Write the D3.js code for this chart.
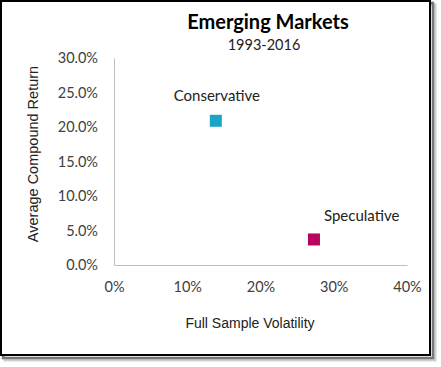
<!DOCTYPE html>
<html lang="en">
  <head>
    <meta charset="UTF-8">
    <script src="https://d3js.org/d3.v7.min.js"></script>
    <title>Emerging Markets</title>
    <style>
      body { margin: 0; background: #fff; }
      svg { display: block; }
      .tick text { font-family: Lato, "Open Sans", sans-serif; font-size: 14.5px; fill: #404040; }
    </style>
  </head>
  <body>
    <div id="chart"></div>
    <script>
      // данные
      const labels = ['Conservative', 'Speculative'];
      const volatility = [0.139, 0.273];
      const returns = [0.209, 0.037];
      const colors = ['#1aa5c3', '#b8045e'];
      const xTicks = [0, 0.1, 0.2, 0.3, 0.4];
      const yTicks = [0, 0.05, 0.1, 0.15, 0.2, 0.25, 0.3];

      const width = 441, height = 367;
      const svg = d3.select('#chart').append('svg')
        .attr('width', width)
        .attr('height', height);

      // рамка с тенью
      svg.append('rect').attr('x', 5).attr('y', 5).attr('width', 430).attr('height', 355)
        .attr('fill', 'none').attr('stroke', '#d0d0d0').attr('stroke-width', 3);
      svg.append('rect').attr('x', 3).attr('y', 3).attr('width', 430).attr('height', 355)
        .attr('fill', 'none').attr('stroke', '#777').attr('stroke-width', 2.5);
      svg.append('rect').attr('x', 1).attr('y', 1).attr('width', 429).attr('height', 354)
        .attr('fill', '#fff').attr('stroke', '#000').attr('stroke-width', 2);

      const x = d3.scaleLinear().domain([0, 0.4]).range([114, 407]);
      const y = d3.scaleLinear().domain([0, 0.3]).range([265, 58]);

      svg.append('g')
        .attr('transform', 'translate(0,265)')
        .call(d3.axisBottom(x).tickValues(xTicks).tickFormat(d3.format('.0%')).tickSize(0).tickPadding(17))
        .call(g => g.select('.domain').attr('stroke', '#bfbfbf'));

      svg.append('g')
        .attr('transform', 'translate(114,0)')
        .call(d3.axisLeft(y).tickValues(yTicks).tickFormat(d3.format('.1%')).tickSize(0).tickPadding(16))
        .call(g => g.select('.domain').attr('stroke', '#bfbfbf'));

      // заголовки
      svg.append('text').attr('x', 268).attr('y', 29)
        .attr('text-anchor', 'middle')
        .style('font-family', 'Lato, sans-serif').style('font-weight', 'bold').style('font-size', '20px')
        .attr('fill', '#000').text('Emerging Markets');
      svg.append('text').attr('x', 264).attr('y', 50)
        .attr('text-anchor', 'middle')
        .style('font-family', 'Lato, sans-serif').style('font-size', '14.5px')
        .attr('fill', '#222').text('1993-2016');

      svg.append('text')
        .attr('transform', 'translate(38,154) rotate(-90)')
        .attr('text-anchor', 'middle')
        .style('font-family', '"Liberation Sans", Arial, sans-serif').style('font-size', '14.5px')
        .attr('fill', '#222').text('Average Compound Return');
      svg.append('text').attr('x', 250).attr('y', 328)
        .attr('text-anchor', 'middle')
        .style('font-family', '"Liberation Sans", Arial, sans-serif').style('font-size', '14px')
        .attr('fill', '#222').text('Full Sample Volatility');

      // точки
      const pts = labels.map((l, i) => ({ label: l, x: volatility[i], y: returns[i], color: colors[i] }));
      const size = 12;
      svg.selectAll('.pt').data(pts).enter().append('rect')
        .attr('class', 'pt')
        .attr('x', d => x(d.x) - size / 2)
        .attr('y', d => y(d.y) - size / 2)
        .attr('width', size).attr('height', size)
        .attr('fill', d => d.color);

      svg.selectAll('.lbl').data(pts).enter().append('text')
        .attr('class', 'lbl')
        .attr('x', (d, i) => i === 0 ? x(d.x) + 1 : x(d.x) + 10)
        .attr('y', (d, i) => i === 0 ? y(d.y) - 20 : y(d.y) - 18)
        .attr('text-anchor', (d, i) => i === 0 ? 'middle' : 'start')
        .style('font-family', 'Lato, sans-serif').style('font-size', '15px')
        .attr('fill', '#222')
        .text(d => d.label);
    </script>
  </body>
</html>
